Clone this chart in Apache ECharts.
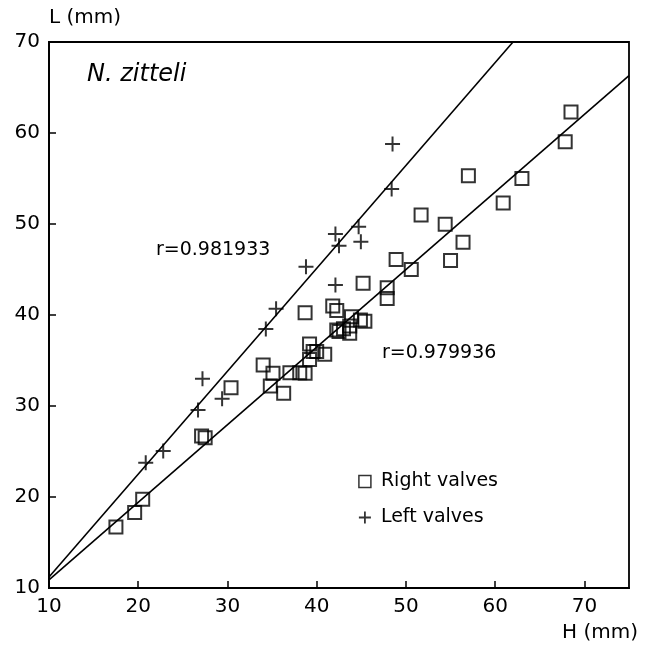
<!DOCTYPE html>
<html><head><meta charset="utf-8">
<script src="https://cdn.jsdelivr.net/npm/echarts@6/dist/echarts.min.js"></script>
<style>html,body{margin:0;padding:0;background:#fff}#c{width:650px;height:646px}</style>
</head><body><div id="c"></div>
<script>
// Right valves (squares): H (mm), L (mm)
const rightH = [17.5,19.6,20.5,27.1,27.5,30.4,34.0,35.1,34.8,36.3,37.0,38.1,38.7,38.7,39.2,39.2,39.6,40.0,40.9,41.8,42.25,42.25,42.5,43.0,43.7,43.9,43.7,44.9,45.4,45.2,47.9,47.9,48.9,50.6,51.7,54.4,55.0,56.4,57.0,60.9,63.0,67.85,68.5];
const rightL = [16.7,18.3,19.75,26.7,26.5,32.0,34.5,33.6,32.2,31.4,33.66,33.66,33.6,40.25,36.8,35.1,36.0,36.0,35.7,41.0,40.5,38.35,38.2,38.5,38.0,39.8,38.8,39.45,39.3,43.5,43.0,41.8,46.1,45.0,51.0,49.97,46.0,48.0,55.3,52.3,55.0,59.05,62.3];
// Left valves (plus)
const leftH = [20.84,22.8,26.7,27.2,29.4,34.3,35.45,38.8,42.1,42.1,42.5,44.7,44.95,48.4,48.5];
const leftL = [23.77,25.05,29.56,33.0,30.8,38.46,40.7,45.3,43.3,48.9,47.6,49.7,48.05,53.85,58.8];
// Regression lines (end points)
const fitLeftH = [10, 62.0];
const fitLeftL = [11.2, 70];
const fitRightH = [10, 75];
const fitRightL = [10.9, 66.3];
const rLeft = 'r=0.981933';
const rRight = 'r=0.979936';
const species = 'N. zitteli';
const seriesNames = ['Right valves', 'Left valves'];
const xMin = 10, xMax = 75, yMin = 10, yMax = 70, tickStep = 10;

const zip = (a, b) => a.map((v, i) => [v, b[i]]);
const FONT = 'DejaVu Sans';
const plusPath = 'path://M10,0L10,20M0,10L20,10';

const chart = echarts.init(document.getElementById('c'), null, {renderer: 'canvas'});
chart.setOption({
  animation: false,
  backgroundColor: '#fff',
  grid: {left: 49, right: 21, top: 42, bottom: 58, show: true, borderColor: '#000', borderWidth: 1.8, backgroundColor: 'transparent'},
  xAxis: {
    type: 'value', min: xMin, max: xMax, interval: tickStep,
    name: 'H (mm)', nameLocation: 'end', nameGap: 9,
    nameTextStyle: {fontFamily: FONT, fontSize: 20, color: '#000', align: 'right', verticalAlign: 'top', padding: [35, 0, 0, 0]},
    axisLine: {lineStyle: {color: '#000', width: 1.8}},
    axisTick: {inside: true, length: 7, lineStyle: {color: '#000', width: 1.5}},
    axisLabel: {fontFamily: FONT, fontSize: 20, color: '#000', margin: 9, showMaxLabel: false},
    splitLine: {show: false}
  },
  yAxis: {
    type: 'value', min: yMin, max: yMax, interval: tickStep,
    name: 'L (mm)', nameLocation: 'end', nameGap: 24,
    nameTextStyle: {fontFamily: FONT, fontSize: 20, color: '#000', align: 'left', verticalAlign: 'middle'},
    axisLine: {lineStyle: {color: '#000', width: 1.8}},
    axisTick: {inside: true, length: 7, lineStyle: {color: '#000', width: 1.5}},
    axisLabel: {fontFamily: FONT, fontSize: 20, color: '#000', margin: 9},
    splitLine: {show: false}
  },
  legend: {
    orient: 'vertical', left: 353, top: 467, itemWidth: 12, itemHeight: 12, itemGap: 17,
    textStyle: {fontFamily: FONT, fontSize: 19, color: '#000', padding: [0, 0, 0, 5]},
    data: [
      {name: seriesNames[0], icon: 'rect', itemStyle: {color: 'transparent', borderColor: '#000', borderWidth: 1.5}},
      {name: seriesNames[1], icon: plusPath, itemStyle: {color: 'transparent', borderColor: '#000', borderWidth: 1.8}}
    ]
  },
  series: [
    {name: seriesNames[0], type: 'scatter', symbol: 'rect', symbolSize: 13, data: zip(rightH, rightL),
     itemStyle: {color: 'transparent', borderColor: '#000', borderWidth: 2}},
    {name: seriesNames[1], type: 'scatter', symbol: plusPath, symbolSize: 15, data: zip(leftH, leftL),
     itemStyle: {color: 'transparent', borderColor: '#000', borderWidth: 2}},
    {name: 'fitLeft', type: 'line', data: zip(fitLeftH, fitLeftL), symbol: 'none', lineStyle: {color: '#000', width: 1.6}, z: 1},
    {name: 'fitRight', type: 'line', data: zip(fitRightH, fitRightL), symbol: 'none', lineStyle: {color: '#000', width: 1.6}, z: 1}
  ],
  graphic: [
    {type: 'text', left: 87, top: 63, style: {text: species, fontFamily: FONT, fontStyle: 'italic', fontSize: 24, fill: '#000'}},
    {type: 'text', left: 156, top: 241, style: {text: rLeft, fontFamily: FONT, fontSize: 19, fill: '#000'}},
    {type: 'text', left: 382, top: 344, style: {text: rRight, fontFamily: FONT, fontSize: 19, fill: '#000'}}
  ]
});
</script></body></html>
